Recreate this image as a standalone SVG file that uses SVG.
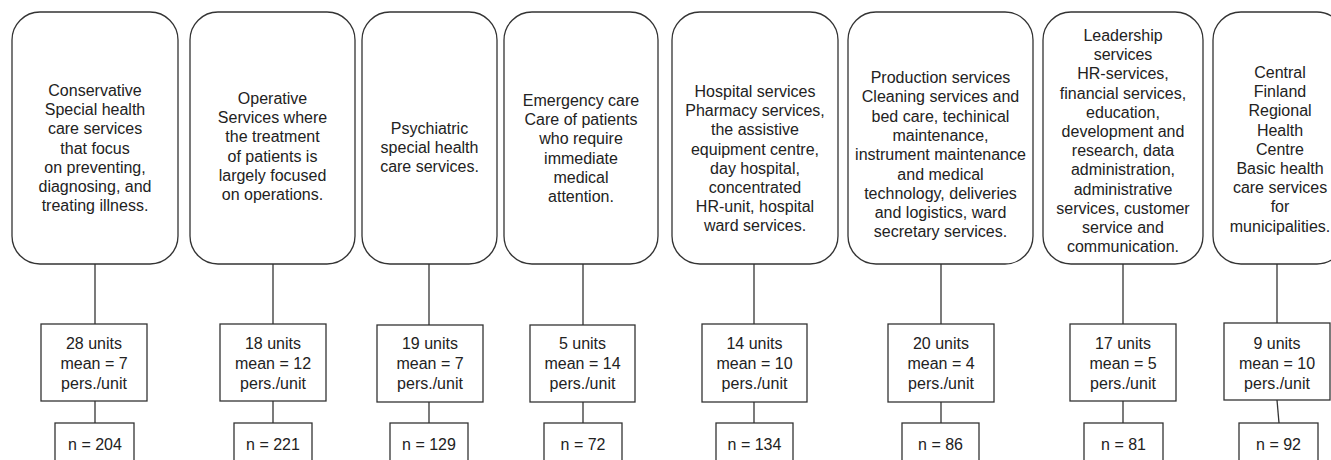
<svg xmlns="http://www.w3.org/2000/svg" width="1331" height="460" viewBox="0 0 1331 460">
<style>
.box{fill:#fff;stroke:#333;stroke-width:1.3}
.t{font-family:"Liberation Sans",Arial,sans-serif;font-size:16px;fill:#222;text-anchor:middle}
.c line{stroke:#333;stroke-width:1.3}
</style>
<rect width="1331" height="460" fill="#fff"/>
<g class="c" id="connectors">
<line x1="95" y1="264" x2="95" y2="324"/><line x1="95" y1="401" x2="95" y2="423"/>
<line x1="273" y1="264" x2="273" y2="324"/><line x1="273" y1="401" x2="273" y2="423"/>
<line x1="429" y1="264" x2="429" y2="325"/><line x1="429" y1="402" x2="429" y2="423"/>
<line x1="583" y1="264" x2="583" y2="325"/><line x1="583" y1="402" x2="583" y2="423"/>
<line x1="754" y1="264" x2="754" y2="324"/><line x1="754" y1="402" x2="754" y2="423"/>
<line x1="941" y1="264" x2="941" y2="324"/><line x1="941" y1="402" x2="941" y2="423"/>
<line x1="1123" y1="264" x2="1123" y2="324"/><line x1="1123" y1="401" x2="1123" y2="423"/>
<line x1="1277" y1="264" x2="1277" y2="323"/><line x1="1277" y1="400" x2="1279" y2="423"/>
</g>
<g id="s1">
<rect class="box" x="12" y="12" width="166" height="252" rx="28"/>
<text class="t" x="95" y="96"><tspan x="95">Conservative</tspan><tspan x="95" dy="19.2">Special health</tspan><tspan x="95" dy="19.2">care services</tspan><tspan x="95" dy="19.2">that focus</tspan><tspan x="95" dy="19.2">on preventing,</tspan><tspan x="95" dy="19.2">diagnosing, and</tspan><tspan x="95" dy="19.2">treating illness.</tspan></text>
</g>
<g id="s2">
<rect class="box" x="190" y="12" width="165" height="252" rx="28"/>
<text class="t" x="272.5" y="104"><tspan x="272.5">Operative</tspan><tspan x="272.5" dy="19.2">Services where</tspan><tspan x="272.5" dy="19.2">the treatment</tspan><tspan x="272.5" dy="19.2">of patients is</tspan><tspan x="272.5" dy="19.2">largely focused</tspan><tspan x="272.5" dy="19.2">on operations.</tspan></text>
</g>
<g id="s3">
<rect class="box" x="362" y="12" width="135" height="252" rx="28"/>
<text class="t" x="429.5" y="134"><tspan x="429.5">Psychiatric</tspan><tspan x="429.5" dy="19.2">special health</tspan><tspan x="429.5" dy="19.2">care services.</tspan></text>
</g>
<g id="s4">
<rect class="box" x="504" y="12" width="154" height="252" rx="28"/>
<text class="t" x="581" y="106"><tspan x="581">Emergency care</tspan><tspan x="581" dy="19.2">Care of patients</tspan><tspan x="581" dy="19.2">who require</tspan><tspan x="581" dy="19.2">immediate</tspan><tspan x="581" dy="19.2">medical</tspan><tspan x="581" dy="19.2">attention.</tspan></text>
</g>
<g id="s5">
<rect class="box" x="672" y="12" width="166" height="252" rx="28"/>
<text class="t" x="755" y="97"><tspan x="755">Hospital services</tspan><tspan x="755" dy="19.2">Pharmacy services,</tspan><tspan x="755" dy="19.2">the assistive</tspan><tspan x="755" dy="19.2">equipment centre,</tspan><tspan x="755" dy="19.2">day hospital,</tspan><tspan x="755" dy="19.2">concentrated</tspan><tspan x="755" dy="19.2">HR-unit, hospital</tspan><tspan x="755" dy="19.2">ward services.</tspan></text>
</g>
<g id="s6">
<rect class="box" x="848" y="12" width="185" height="252" rx="28"/>
<text class="t" x="940.5" y="83"><tspan x="940.5">Production services</tspan><tspan x="940.5" dy="19.3">Cleaning services and</tspan><tspan x="940.5" dy="19.3">bed care, techinical</tspan><tspan x="940.5" dy="19.3">maintenance,</tspan><tspan x="940.5" dy="19.3">instrument maintenance</tspan><tspan x="940.5" dy="19.3">and medical</tspan><tspan x="940.5" dy="19.3">technology, deliveries</tspan><tspan x="940.5" dy="19.3">and logistics, ward</tspan><tspan x="940.5" dy="19.3">secretary services.</tspan></text>
</g>
<g id="s7">
<rect class="box" x="1043" y="12" width="160" height="252" rx="28"/>
<text class="t" x="1123" y="41"><tspan x="1123">Leadership</tspan><tspan x="1123" dy="19.2">services</tspan><tspan x="1123" dy="19.2">HR-services,</tspan><tspan x="1123" dy="19.2">financial services,</tspan><tspan x="1123" dy="19.2">education,</tspan><tspan x="1123" dy="19.2">development and</tspan><tspan x="1123" dy="19.2">research, data</tspan><tspan x="1123" dy="19.2">administration,</tspan><tspan x="1123" dy="19.2">administrative</tspan><tspan x="1123" dy="19.2">services, customer</tspan><tspan x="1123" dy="19.2">service and</tspan><tspan x="1123" dy="19.2">communication.</tspan></text>
</g>
<g id="s8">
<rect class="box" x="1213" y="12" width="132" height="252" rx="28"/>
<text class="t" x="1280" y="78"><tspan x="1280">Central</tspan><tspan x="1280" dy="19.2">Finland</tspan><tspan x="1280" dy="19.2">Regional</tspan><tspan x="1280" dy="19.2">Health</tspan><tspan x="1280" dy="19.2">Centre</tspan><tspan x="1280" dy="19.2">Basic health</tspan><tspan x="1280" dy="19.2">care services</tspan><tspan x="1280" dy="19.2">for</tspan><tspan x="1280" dy="19.2">municipalities.</tspan></text>
</g>
<g id="u1"><rect class="box" x="41" y="324" width="106" height="77"/><text class="t" x="94" y="349"><tspan x="94">28 units</tspan><tspan x="94" dy="20">mean = 7</tspan><tspan x="94" dy="20">pers./unit</tspan></text></g>
<g id="u2"><rect class="box" x="220" y="324" width="106" height="77"/><text class="t" x="273" y="349"><tspan x="273">18 units</tspan><tspan x="273" dy="20">mean = 12</tspan><tspan x="273" dy="20">pers./unit</tspan></text></g>
<g id="u3"><rect class="box" x="377" y="325" width="106" height="77"/><text class="t" x="430" y="349"><tspan x="430">19 units</tspan><tspan x="430" dy="20">mean = 7</tspan><tspan x="430" dy="20">pers./unit</tspan></text></g>
<g id="u4"><rect class="box" x="530" y="325" width="105" height="77"/><text class="t" x="582.5" y="349"><tspan x="582.5">5 units</tspan><tspan x="582.5" dy="20">mean = 14</tspan><tspan x="582.5" dy="20">pers./unit</tspan></text></g>
<g id="u5"><rect class="box" x="702" y="324" width="105" height="78"/><text class="t" x="754.5" y="349"><tspan x="754.5">14 units</tspan><tspan x="754.5" dy="20">mean = 10</tspan><tspan x="754.5" dy="20">pers./unit</tspan></text></g>
<g id="u6"><rect class="box" x="888" y="324" width="106" height="78"/><text class="t" x="941" y="349"><tspan x="941">20 units</tspan><tspan x="941" dy="20">mean = 4</tspan><tspan x="941" dy="20">pers./unit</tspan></text></g>
<g id="u7"><rect class="box" x="1070" y="324" width="106" height="77"/><text class="t" x="1123" y="349"><tspan x="1123">17 units</tspan><tspan x="1123" dy="20">mean = 5</tspan><tspan x="1123" dy="20">pers./unit</tspan></text></g>
<g id="u8"><rect class="box" x="1224" y="323" width="106" height="77"/><text class="t" x="1277" y="349"><tspan x="1277">9 units</tspan><tspan x="1277" dy="20">mean = 10</tspan><tspan x="1277" dy="20">pers./unit</tspan></text></g>
<g id="n1"><rect class="box" x="55" y="423" width="79" height="45"/><text class="t" x="95" y="450">n = 204</text></g>
<g id="n2"><rect class="box" x="234" y="423" width="78" height="45"/><text class="t" x="273" y="450">n = 221</text></g>
<g id="n3"><rect class="box" x="390" y="423" width="78" height="45"/><text class="t" x="429" y="450">n = 129</text></g>
<g id="n4"><rect class="box" x="544" y="423" width="78" height="45"/><text class="t" x="583" y="450">n = 72</text></g>
<g id="n5"><rect class="box" x="716" y="423" width="77" height="45"/><text class="t" x="754.5" y="450">n = 134</text></g>
<g id="n6"><rect class="box" x="902" y="423" width="77" height="45"/><text class="t" x="940.5" y="450">n = 86</text></g>
<g id="n7"><rect class="box" x="1084" y="423" width="79" height="45"/><text class="t" x="1123.5" y="450">n = 81</text></g>
<g id="n8"><rect class="box" x="1239" y="423" width="79" height="45"/><text class="t" x="1278.5" y="450">n = 92</text></g>
</svg>
